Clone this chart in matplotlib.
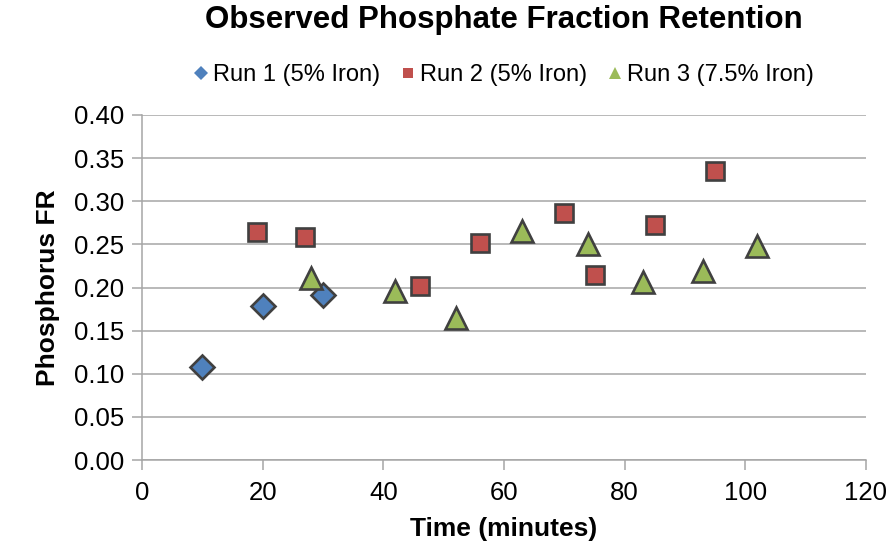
import matplotlib
matplotlib.use("Agg")
import matplotlib.pyplot as plt
from matplotlib.ticker import MultipleLocator, FormatStrFormatter

plt.rcParams["font.family"] = ["Liberation Sans", "DejaVu Sans"]

# observed fraction retention per run (time in minutes)
run1_t = [10, 20, 30]
run1_fr = [0.108, 0.179, 0.191]
run2_t = [19, 27, 46, 56, 70, 75, 85, 95]
run2_fr = [0.264, 0.259, 0.202, 0.252, 0.286, 0.214, 0.273, 0.335]
run3_t = [28, 42, 52, 63, 74, 83, 93, 102]
run3_fr = [0.211, 0.196, 0.165, 0.266, 0.251, 0.206, 0.219, 0.248]
labels = ["Run 1 (5% Iron)", "Run 2 (5% Iron)", "Run 3 (7.5% Iron)"]

EDGE = "#404040"
GRID = "#a6a6a6"

fig = plt.figure(figsize=(8.89, 5.48), dpi=100)
ax = fig.add_axes([142 / 889, 1 - 460 / 548, 724 / 889, 345 / 548])

ax.plot(run1_t, run1_fr, ls="", marker="D", ms=12.5, mfc="#4f81bd", mec=EDGE, mew=1.9,
        label=labels[0], zorder=3)
ax.plot(run2_t, run2_fr, ls="", marker="s", ms=12.5, mfc="#c0504d", mec=EDGE, mew=1.9,
        label=labels[1], zorder=3)
ax.plot(run3_t, run3_fr, ls="", marker="^", ms=15.5, mfc="#9bbb59", mec=EDGE, mew=1.9,
        label=labels[2], zorder=3)

ax.set_xlim(0, 120); ax.set_ylim(0, 0.40)
ax.xaxis.set_major_locator(MultipleLocator(20))
ax.yaxis.set_major_locator(MultipleLocator(0.05))
ax.yaxis.set_major_formatter(FormatStrFormatter("%.2f"))
ax.grid(axis="y", color=GRID, lw=1.1, zorder=0)
ax.set_axisbelow(True)
for s in ("top", "right"):
    ax.spines[s].set_visible(False)
for s in ("left", "bottom"):
    ax.spines[s].set_color(GRID); ax.spines[s].set_linewidth(1.1)
ax.tick_params(axis="both", colors=GRID, labelcolor="black", labelsize=18.5, width=1.1)
ax.tick_params(axis="y", length=7, pad=6)
ax.tick_params(axis="x", length=7, pad=8)

ax.set_xlabel("Time (minutes)", fontsize=19, fontweight="bold", labelpad=9)
ax.set_ylabel("Phosphorus FR", fontsize=19, fontweight="bold", labelpad=10)
ax.text(0.5, 1 - 20 / 548, "Observed Phosphate Fraction Retention", ha="center", va="center",
        fontsize=22.5, fontweight="bold",
        transform=matplotlib.transforms.blended_transform_factory(ax.transAxes, fig.transFigure))

leg = ax.legend(loc="center", bbox_to_anchor=(0.5, 1 - 75 / 548),
                bbox_transform=matplotlib.transforms.blended_transform_factory(ax.transAxes, fig.transFigure),
                ncol=3, frameon=False, fontsize=17, handlelength=0.6, handletextpad=0.2,
                columnspacing=0.9, markerscale=0.6)
for h in leg.legend_handles:
    h.set_markeredgewidth(0)

fig.savefig("out.png", dpi=100)
